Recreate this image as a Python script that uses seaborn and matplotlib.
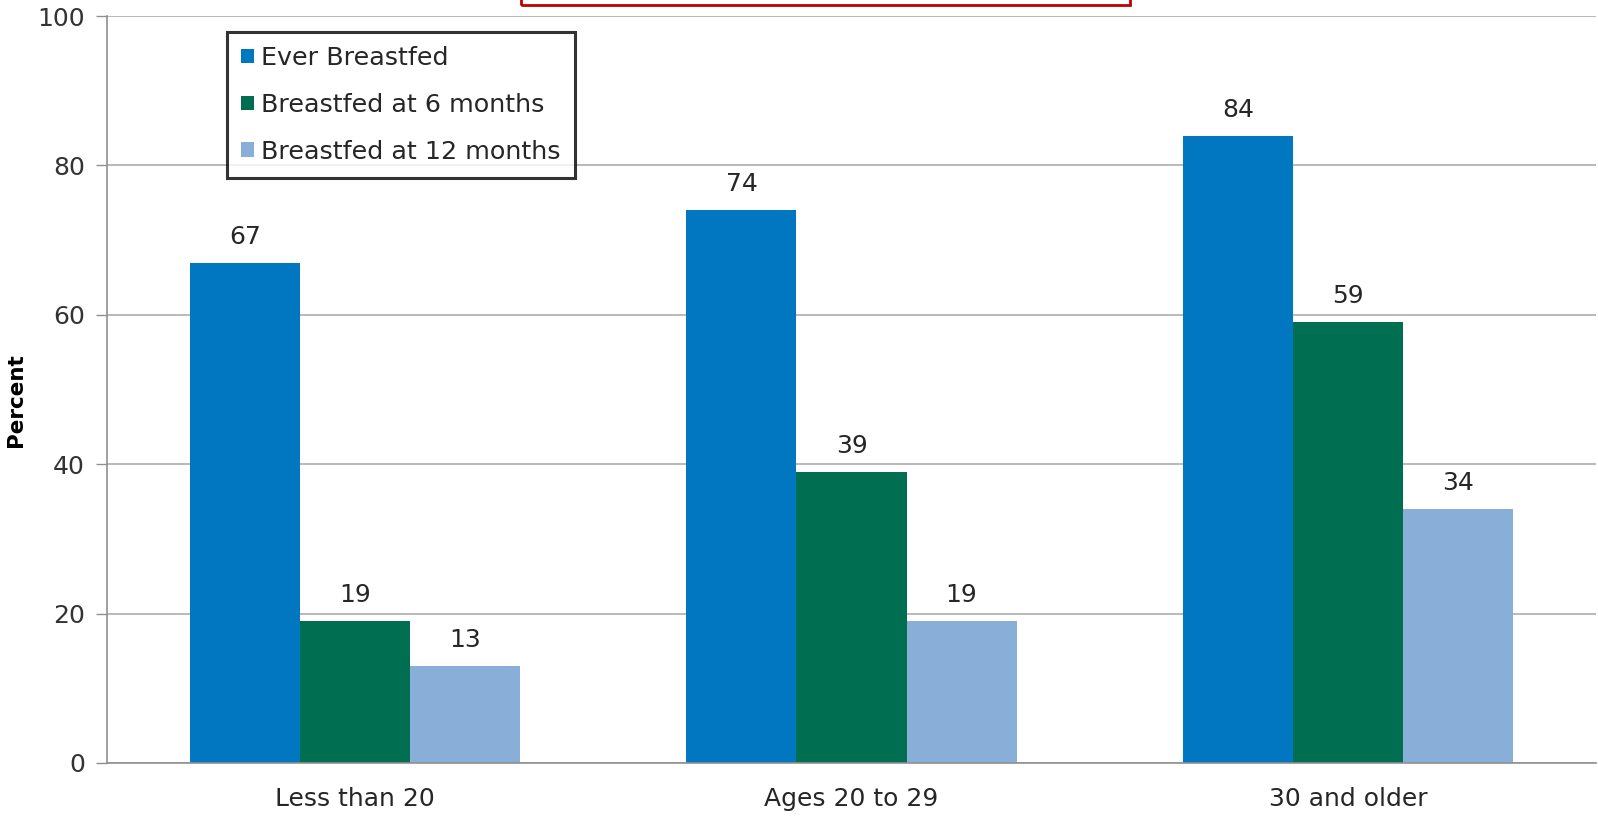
import matplotlib
matplotlib.use("Agg")
import matplotlib.pyplot as plt
from matplotlib.patches import Rectangle, Patch
import seaborn as sns
import pandas as pd

# Breastfeeding rates by maternal age
age_groups = ["Less than 20", "Ages 20 to 29", "30 and older"]
series_names = ["Ever Breastfed", "Breastfed at 6 months", "Breastfed at 12 months"]
ever_breastfed = [67, 74, 84]
at_6_months = [19, 39, 59]
at_12_months = [13, 19, 34]
y_ticks = [0, 20, 40, 60, 80, 100]

colors = ["#0077C0", "#006E51", "#89AFD8"]

rows = []
for name, vals in zip(series_names, [ever_breastfed, at_6_months, at_12_months]):
    for grp, v in zip(age_groups, vals):
        rows.append({"group": grp, "series": name, "value": v})
df = pd.DataFrame(rows)

sns.set_theme(style="white")
plt.rcParams["font.family"] = ["DejaVu Sans"]

W, H = 1598, 818
fig = plt.figure(figsize=(W / 100, H / 100), dpi=100)
ax = fig.add_axes([107 / W, 1 - 763 / H, (1596 - 107) / W, (763 - 16) / H])

sns.barplot(data=df, x="group", y="value", hue="series", order=age_groups,
            hue_order=series_names, palette=colors, saturation=1, width=0.665,
            gap=0, linewidth=0, ax=ax, legend=False)

# value labels above each bar
for container in ax.containers:
    ax.bar_label(container, labels=[f"{int(v)}" for v in container.datavalues],
                 padding=10, fontsize=18, color="#262626")

ax.set_xlim(-0.5, 2.5)
ax.set_ylim(0, 100)
ax.set_yticks(y_ticks)
ax.set_yticklabels([str(t) for t in y_ticks], fontsize=18, color="#333333")
ax.yaxis.grid(True, color="#A6A6A6", linewidth=1.1)
ax.set_axisbelow(True)

# category labels centred, tick marks between categories
ax.set_xticks(range(len(age_groups)))
ax.set_xticklabels(age_groups, fontsize=18, color="#262626")
ax.tick_params(axis="x", which="major", length=0, pad=17)
ax.set_xticks([-0.5, 0.5, 1.5, 2.5], minor=True)
ax.tick_params(axis="x", which="minor", length=8, width=1, color="#909090", direction="out")
ax.tick_params(axis="y", which="major", length=8, width=1, color="#909090", direction="out", pad=8, left=True)

ax.set_xlabel("")
ax.set_ylabel("Percent", fontsize=15.5, fontweight="bold", color="#000000")
ax.yaxis.set_label_coords((26 - 107) / (1596 - 107), 0.486)

for side in ["top", "right"]:
    ax.spines[side].set_visible(False)
for side in ["left", "bottom"]:
    ax.spines[side].set_color("#909090")
    ax.spines[side].set_linewidth(1.2)

handles = [Patch(facecolor=c, edgecolor="none") for c in colors]
leg = fig.legend(handles, series_names, loc="upper left",
                 bbox_to_anchor=(227 / W, 1 - 32 / H), borderaxespad=0, fontsize=18.3,
                 frameon=True, fancybox=False, handlelength=0.5, handleheight=0.5,
                 handletextpad=0.3, labelspacing=0.9, borderpad=0.55,
                 labelcolor="#262626")
leg.get_frame().set_edgecolor("#000000")
leg.get_frame().set_linewidth(2.2)

# red title frame at the top edge
fig.patches.append(Rectangle((521 / W, 1 - 5 / H), (1130 - 521) / W, 0.05,
                             transform=fig.transFigure, fill=False,
                             edgecolor="#C00000", linewidth=2))

fig.savefig("out.png", dpi=100)
